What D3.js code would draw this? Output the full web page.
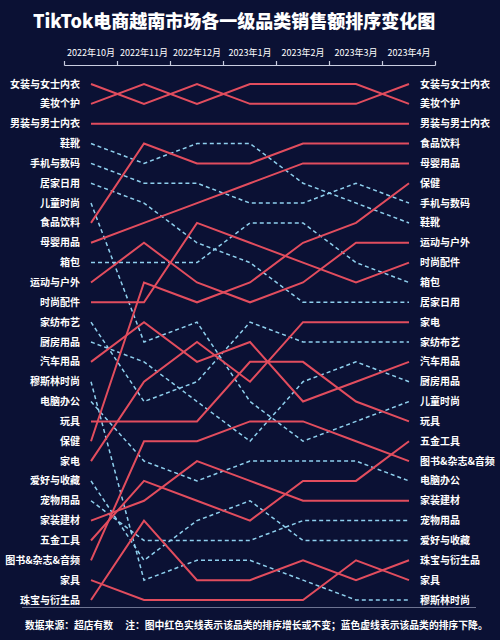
<!DOCTYPE html>
<html>
<head>
<meta charset="utf-8">
<script src="https://cdn.jsdelivr.net/npm/d3@7"></script>
<style>
  html, body { margin: 0; padding: 0; background: #0b1134; }
  svg { display: block; }
  text { font-family: "Noto Sans CJK SC", "Noto Sans", sans-serif; fill: #ffffff; }
  .title { font-size: 18px; font-weight: 900; }
  .month { font-size: 9px; }
  .cat { font-size: 10px; font-weight: 700; }
  .note { font-size: 9.8px; font-weight: 700; }
</style>
</head>
<body>
<div id="chart"></div>
<script>
/* data ***********************************************************************/

var months = ['2022年10月', '2022年11月', '2022年12月', '2023年1月',
              '2023年2月', '2023年3月', '2023年4月'];

// categories in their October order
var categories = ['女装与女士内衣', '美妆个护', '男装与男士内衣', '鞋靴', '手机与数码',
                  '居家日用', '儿童时尚', '食品饮料', '母婴用品', '箱包', '运动与户外',
                  '时尚配件', '家纺布艺', '厨房用品', '汽车用品', '穆斯林时尚', '电脑办公',
                  '玩具', '保健', '家电', '爱好与收藏', '宠物用品', '家装建材', '五金工具',
                  '图书&杂志&音频', '家具', '珠宝与衍生品'];

// rank of each category, Oct 2022 .. Apr 2023 (same order as categories)
var ranks = [
    [1, 2, 1, 2, 2, 2, 1],
    [2, 1, 2, 1, 1, 1, 2],
    [3, 3, 3, 3, 3, 3, 3],
    [4, 5, 4, 4, 6, 7, 8],
    [5, 6, 6, 7, 7, 6, 7],
    [6, 7, 9, 10, 12, 12, 12],
    [7, 14, 13, 17, 19, 18, 17],
    [8, 4, 5, 5, 4, 4, 4],
    [9, 8, 7, 6, 5, 5, 5],
    [10, 10, 10, 8, 8, 10, 11],
    [11, 9, 11, 12, 11, 9, 9],
    [12, 12, 8, 9, 10, 11, 10],
    [13, 17, 16, 13, 14, 14, 14],
    [14, 15, 17, 19, 16, 15, 16],
    [15, 13, 15, 14, 17, 16, 15],
    [16, 26, 25, 25, 26, 27, 27],
    [17, 20, 21, 20, 20, 20, 21],
    [18, 18, 18, 15, 15, 17, 18],
    [19, 11, 12, 11, 9, 8, 6],
    [20, 16, 14, 16, 13, 13, 13],
    [21, 25, 23, 22, 24, 24, 24],
    [22, 24, 24, 24, 23, 23, 23],
    [23, 22, 20, 21, 22, 22, 22],
    [24, 21, 22, 23, 21, 21, 19],
    [25, 19, 19, 18, 18, 19, 20],
    [26, 27, 27, 27, 27, 25, 26],
    [27, 23, 26, 26, 25, 26, 25]
];

var title = 'TikTok电商越南市场各一级品类销售额排序变化图',
    note = '数据来源：超店有数\u3000 注：图中红色实线表示该品类的排序增长或不变；蓝色虚线表示该品类的排序下降。';

/* chart **********************************************************************/

function build_chart()
{
    let width = 500,
        height = 640,
        red = '#e24d5e',
        blue = '#8fd0ee';

    let svg = d3.select('#chart').append('svg')
        .attr('width', width)
        .attr('height', height);

    svg.append('rect')
        .attr('width', width)
        .attr('height', height)
        .attr('fill', '#0b1134');

    let x = d3.scalePoint().domain(months).range([91, 409]),
        y = d3.scaleLinear().domain([1, categories.length]).range([84, 600]),
        step = x.step();

    // title
    svg.append('text')
        .attr('class', 'title')
        .attr('x', 33)
        .attr('y', 28)
        .text(title);

    // month header with bracket axis
    svg.append('g').selectAll('text').data(months).enter()
        .append('text')
        .attr('class', 'month')
        .attr('x', d => x(d))
        .attr('y', 56)
        .attr('text-anchor', 'middle')
        .text(d => d);

    let edges = months.map(d => x(d) - step/2).concat([x(months[months.length-1]) + step/2]);
    let axis = svg.append('g').attr('stroke', '#c9cde0').attr('stroke-width', 1.2);
    axis.append('line')
        .attr('x1', edges[0]).attr('x2', edges[edges.length-1])
        .attr('y1', 65.5).attr('y2', 65.5);
    axis.selectAll('.tic').data(edges).enter()
        .append('line')
        .attr('x1', d => d).attr('x2', d => d)
        .attr('y1', 61).attr('y2', 65.5);

    // rank lines
    let line = d3.line()
        .x((r, i) => x(months[i]))
        .y(r => y(r));

    let series = categories.map((c, i) => ({ name: c, r: ranks[i],
                                            up: ranks[i][ranks[i].length-1] <= ranks[i][0] }));

    let lines = svg.append('g').attr('fill', 'none');
    lines.selectAll('.down').data(series.filter(s => !s.up)).enter()
        .append('path')
        .attr('d', s => line(s.r))
        .attr('stroke', blue)
        .attr('stroke-width', 1.5)
        .attr('stroke-dasharray', '4,3');
    lines.selectAll('.up').data(series.filter(s => s.up)).enter()
        .append('path')
        .attr('d', s => line(s.r))
        .attr('stroke', red)
        .attr('stroke-width', 2);

    // labels, left = October order, right = April order
    svg.append('g').selectAll('text').data(series).enter()
        .append('text')
        .attr('class', 'cat')
        .attr('x', 80)
        .attr('y', s => y(s.r[0]))
        .attr('dy', '0.35em')
        .attr('text-anchor', 'end')
        .text(s => s.name);

    svg.append('g').selectAll('text').data(series).enter()
        .append('text')
        .attr('class', 'cat')
        .attr('x', 420)
        .attr('y', s => y(s.r[s.r.length-1]))
        .attr('dy', '0.35em')
        .text(s => s.name);

    // footer
    svg.append('line')
        .attr('x1', 22).attr('x2', 476)
        .attr('y1', 607.5).attr('y2', 607.5)
        .attr('stroke', '#6d7391')
        .attr('stroke-width', 1);

    svg.append('text')
        .attr('class', 'note')
        .attr('x', 25)
        .attr('y', 629)
        .text(note);
}

build_chart();
</script>
</body>
</html>
